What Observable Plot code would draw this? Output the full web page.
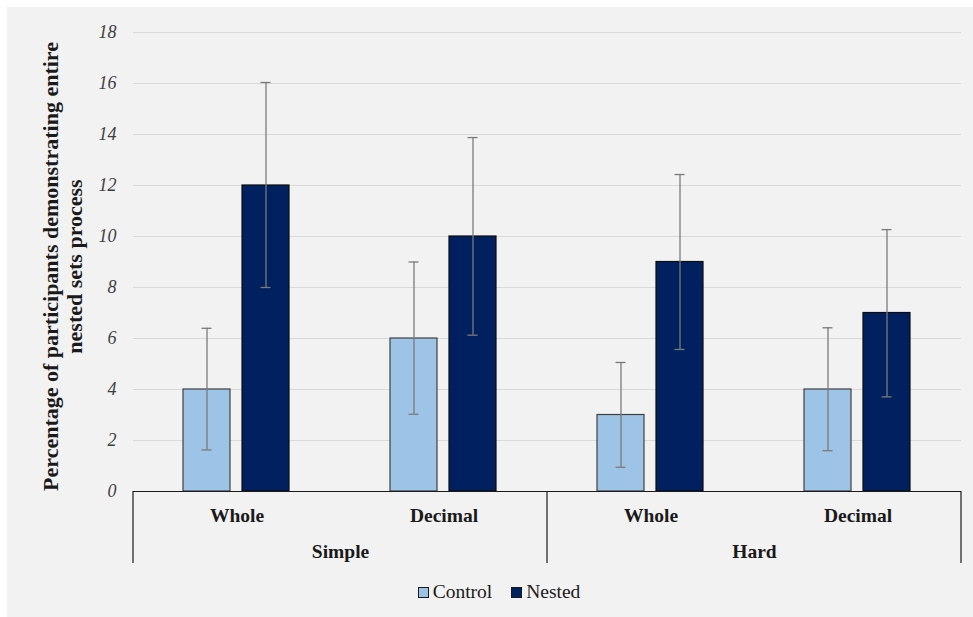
<!DOCTYPE html>
<html>
<head>
<meta charset="utf-8">
<script src="https://cdn.jsdelivr.net/npm/d3@7"></script>
<script src="https://cdn.jsdelivr.net/npm/@observablehq/plot@0.6"></script>
<style>
  body { margin: 0; background: #ffffff; }
  #panel { position: absolute; left: 7px; top: 7px; width: 966px; height: 610px; background: #f2f2f2; font-family: "Liberation Serif", "DejaVu Serif", serif; }
  #chart svg { display: block; }
  #chart svg text { font-family: "Liberation Serif", "DejaVu Serif", serif; }
  #legend { position: absolute; top: 574px; left: 0; width: 984px; display: flex; justify-content: center; gap: 19px; font-size: 19.5px; color: #1a1a1a; }
  #legend span.item { display: flex; align-items: center; gap: 4px; }
  #legend span.sw { width: 9px; height: 9px; border: 1px solid #1a1a1a; display: inline-block; }
</style>
</head>
<body>
<div id="panel">
  <div id="chart"></div>
  <div id="legend"></div>
</div>
<script>
// Percentage of participants demonstrating the entire nested sets process
const difficulty = ["Simple", "Simple", "Simple", "Simple", "Hard", "Hard", "Hard", "Hard"];
const numberType = ["Whole", "Whole", "Decimal", "Decimal", "Whole", "Whole", "Decimal", "Decimal"];
const condition = ["Control", "Nested", "Control", "Nested", "Control", "Nested", "Control", "Nested"];
const percent = [4, 12, 6, 10, 3, 9, 4, 7];
const errLow = [1.63, 8.0, 3.03, 6.13, 0.95, 5.57, 1.6, 3.71];
const errHigh = [6.4, 16.04, 9.0, 13.88, 5.06, 12.43, 6.42, 10.27];

const groups = ["Simple", "Hard"];
const conditions = ["Control", "Nested"];
const colors = ["#9dc3e6", "#002060"];
const yTicks = [0, 2, 4, 6, 8, 10, 12, 14, 16, 18];
const yTitle = ["Percentage of participants demonstrating entire", "nested sets process"];

const rows = percent.map((v, i) => ({
  cell: difficulty[i] + "|" + numberType[i],
  condition: condition[i],
  value: v,
  lo: errLow[i],
  hi: errHigh[i]
}));
const cells = [...new Set(rows.map(d => d.cell))];
// each group label sits under the boundary between its two cells
const groupLabels = groups.map(g => ({ cell: cells.find(c => c.startsWith(g + "|")), label: g }));

const serif = "'Liberation Serif', 'DejaVu Serif', serif";

const plot = Plot.plot({
  width: 966,
  height: 575,
  marginLeft: 124,
  marginRight: 11,
  marginTop: 25,
  marginBottom: 91,
  style: { background: "transparent", fontFamily: serif, color: "#1a1a1a" },
  fx: { domain: cells, padding: 0, label: null },
  x: { domain: conditions, paddingInner: 0.2, paddingOuter: 0.85, axis: null },
  y: { domain: [0, 18], ticks: yTicks, label: null },
  color: { domain: conditions, range: colors },
  marks: [
    Plot.gridY(yTicks, { stroke: "#d9d9d9", strokeOpacity: 1, strokeWidth: 1 }),
    Plot.axisY(yTicks, { tickSize: 0, tickPadding: 17, fontSize: 18, fontStyle: "italic", fill: "#404040", label: null }),
    Plot.axisFx({
      anchor: "bottom", tickSize: 0, tickPadding: 17, label: null,
      tickFormat: d => d.split("|")[1], fontSize: 19.5, fontWeight: "bold"
    }),
    Plot.barY(rows, {
      fx: "cell", x: "condition", y: "value", fill: "condition",
      stroke: d => d.condition === "Control" ? "#404040" : "#0d0d0d", strokeWidth: 1.2
    }),
    Plot.ruleX(rows, { fx: "cell", x: "condition", y1: "lo", y2: "hi", stroke: "#7a7a7a", strokeWidth: 1.3 }),
    Plot.tickY(rows, { fx: "cell", x: "condition", y: "lo", stroke: "#7a7a7a", strokeWidth: 1.3, inset: 18.5 }),
    Plot.tickY(rows, { fx: "cell", x: "condition", y: "hi", stroke: "#7a7a7a", strokeWidth: 1.3, inset: 18.5 }),
    Plot.ruleY([0], { stroke: "#1a1a1a", strokeWidth: 1.2 }),
    Plot.text(groupLabels, {
      fx: "cell", text: "label", frameAnchor: "bottom-right", textAnchor: "middle",
      lineAnchor: "middle", dy: 60, fontSize: 19.5, fontWeight: "bold", fill: "#1a1a1a"
    })
  ]
});

document.getElementById("chart").appendChild(plot);

// Vertical separators between the difficulty groups, below the baseline
const fx = plot.scale("fx");
const yScale = plot.scale("y");
const svg = d3.select(plot);
const base = yScale.apply(0);
const bounds = [
  fx.apply(cells[0]),
  fx.apply(cells[2]),
  fx.apply(cells[3]) + fx.bandwidth
];
svg.append("g")
  .selectAll("line")
  .data(bounds)
  .join("line")
  .attr("x1", d => d).attr("x2", d => d)
  .attr("y1", base).attr("y2", base + 72)
  .attr("stroke", "#1a1a1a").attr("stroke-width", 1.2);

// Two-line rotated y-axis title
const midY = (yScale.apply(0) + yScale.apply(18)) / 2 + 5;
const title = svg.append("text")
  .attr("transform", `translate(51,${midY}) rotate(-90)`)
  .attr("text-anchor", "middle")
  .style("font-family", serif)
  .attr("font-weight", "bold")
  .attr("font-size", 22)
  .attr("fill", "#1a1a1a");
yTitle.forEach((t, i) => {
  title.append("tspan").attr("x", 0).attr("y", i * 24).text(t);
});

// Legend
const legend = d3.select("#legend");
conditions.forEach((c, i) => {
  const item = legend.append("span").attr("class", "item");
  item.append("span").attr("class", "sw").style("background", colors[i]);
  item.append("span").text(c);
});
</script>
</body>
</html>
